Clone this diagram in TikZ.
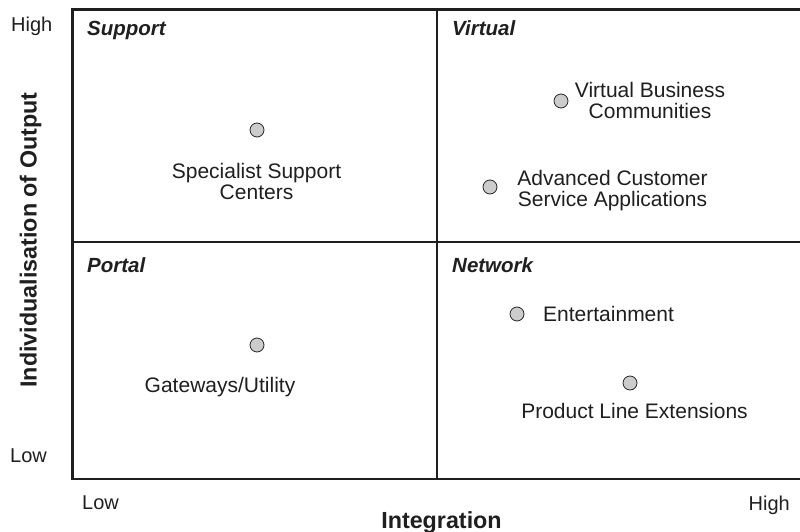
\documentclass[tikz,border=0pt]{standalone}
\usepackage{fontspec}
\setmainfont{Liberation Sans}
\begin{document}
\begin{tikzpicture}[x=1pt,y=-1pt,
  frame/.style={line width=2.5pt,draw=black!88},
  dot/.style={circle,draw=black!85,line width=0.8pt,fill=black!20,minimum size=14pt,inner sep=0pt},
  item/.style={inner sep=0pt,align=center,font=\fontsize{21}{21}\selectfont,text=black!88},
  quad/.style={inner sep=0pt,anchor=base west,font=\fontsize{20.5}{21}\selectfont\bfseries\itshape,text=black!88},
  tick/.style={inner sep=0pt,font=\fontsize{20}{21}\selectfont,text=black!88},
  axis/.style={inner sep=0pt,font=\fontsize{23.3}{24}\selectfont\bfseries,text=black!88}]
\useasboundingbox (0,0) rectangle (800,532);
\fill[white] (0,0) rectangle (800,532);
% frame
\coordinate (tl) at (72.5,9.5);
\coordinate (tr) at (800,9.5);
\coordinate (bl) at (72.5,479);
\coordinate (br) at (800,479);
\coordinate (mt) at (437,9.5);
\coordinate (mb) at (437,479);
\coordinate (ml) at (72.5,242);
\coordinate (mr) at (800,242);
\draw[frame] (tr) -- (tl) -- (bl) -- (br);
\draw[frame] (mt) -- (mb);
\draw[frame] (ml) -- (mr);
% quadrant titles
\node[quad] (qs) at (87,36) {Support};
\node[quad] (qv) at (452,36) {Virtual};
\node[quad] (qp) at (87,272) {Portal};
\node[quad] (qn) at (452,272) {Network};
% dots
\node[dot] (d1) at (257,130) {};
\node[dot] (d2) at (561,101) {};
\node[dot] (d3) at (490,187) {};
\node[dot] (d4) at (257,345) {};
\node[dot] (d5) at (517,314) {};
\node[dot] (d6) at (630,383) {};
% item labels (base = baseline of last line)
\node[item,anchor=base] (t1) at (256.5,199) {Specialist Support\\Centers};
\node[item,anchor=base] (t2) at (650,119) {Virtual Business\\Communities};
\node[item,anchor=base] (t3) at (612.5,206) {Advanced Customer\\Service Applications};
\node[item,anchor=base] (t4) at (220,392) {Gateways/Utility};
\node[item,anchor=base west] (t5) at (543,321) {Entertainment};
\node[item,anchor=base] (t6) at (634.5,418) {Product Line Extensions};
% axis ticks
\node[tick,anchor=base west] (yh) at (11,32) {High};
\node[tick,anchor=base west] (yl) at (10,462) {Low};
\node[tick,anchor=base west] (xl) at (82,509) {Low};
\node[tick,anchor=base east] (xh) at (790,510) {High};
% axis titles
\node[axis,anchor=base] (xt) at (441.5,528) {Integration};
\node[axis,anchor=base,rotate=90] (yt) at (36.5,240) {Individualisation of Output};
\end{tikzpicture}
\end{document}
